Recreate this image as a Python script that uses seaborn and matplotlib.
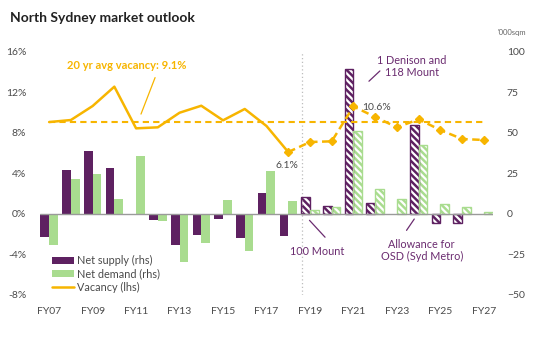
import matplotlib
matplotlib.use("Agg")
import matplotlib.pyplot as plt
from matplotlib.patches import Rectangle, Patch
from matplotlib.lines import Line2D
import seaborn as sns
import pandas as pd
import numpy as np

years = ["FY07", "FY08", "FY09", "FY10", "FY11", "FY12", "FY13", "FY14", "FY15", "FY16", "FY17",
         "FY18", "FY19", "FY20", "FY21", "FY22", "FY23", "FY24", "FY25", "FY26", "FY27"]
net_supply = [-14.4, 26.9, 38.6, 28.0, 0.0, -3.7, -19.1, -12.8, -3.3, -14.8, 12.9,
              -13.6, 10.5, 4.8, 89.1, 6.8, 0.0, 54.6, -5.6, -5.6, 0.0]
net_demand = [-19.1, 21.8, 24.3, 9.4, 35.8, -4.6, -29.9, -18.1, 8.8, -23.1, 26.5,
              7.8, 2.1, 4.0, 51.0, 15.4, 9.3, 42.4, 5.8, 4.1, 0.9]
vacancy = [9.06, 9.26, 10.64, 12.55, 8.44, 8.54, 9.98, 10.67, 9.23, 10.35, 8.67,
           6.1, 7.09, 7.16, 10.6, 9.56, 8.54, 9.33, 8.27, 7.39, 7.29]
avg_vacancy = 9.1
first_forecast = "FY19"
left_ticks = [-8, -4, 0, 4, 8, 12, 16]
right_ticks = [-50, -25, 0, 25, 50, 75, 100]

PURPLE = "#5e2161"
GREEN = "#a9dc8f"
GOLD = "#f7b500"
TXT = "#4a4a4a"
ANN = "#6b2c70"

sns.set_theme(style="white")
plt.rcParams["font.family"] = ["Lato", "DejaVu Sans"]
plt.rcParams["hatch.linewidth"] = 1.6

fig = plt.figure(figsize=(5.34, 3.6), dpi=100)
ax = fig.add_axes([40 / 534, 1 - 295 / 360, 453 / 534, (295 - 51.7) / 360])

df = pd.DataFrame({
    "year": years * 2,
    "value": net_supply + net_demand,
    "series": ["Net supply (rhs)"] * len(years) + ["Net demand (rhs)"] * len(years),
})
sns.barplot(data=df, x="year", y="value", hue="series", order=years,
            hue_order=["Net supply (rhs)", "Net demand (rhs)"],
            palette=[PURPLE, GREEN], saturation=1, width=0.8, legend=False, ax=ax)

fidx = years.index(first_forecast)
for p in list(ax.patches):
    cx = p.get_x() + p.get_width() / 2
    cat = int(round(cx))
    col = p.get_facecolor()
    p.set_linewidth(0)
    if cat >= fidx:
        p.set_hatch("\\\\\\\\\\")
        p.set_edgecolor("white")
        p.set_linewidth(0)
        if abs(p.get_height()) > 0.01:
            ax.add_patch(Rectangle((p.get_x(), p.get_y()), p.get_width(), p.get_height(),
                                   fill=False, edgecolor=col, lw=1.0, zorder=3))

ax.set_xlim(-0.42, len(years) - 1 + 0.42)
ax.set_ylim(-50, 100)
ax.axhline(0, color="#9a9a9a", lw=1.0, zorder=4)
ax.axvline(fidx - 0.38, color="#bdbdbd", lw=0.9, ls=(0, (1, 2)), zorder=1)
ax.set_xticks(range(0, len(years), 2))
ax.set_xticklabels(years[::2])
ax.set_xlabel("")
ax.set_ylabel("")
for s in ax.spines.values():
    s.set_visible(False)

ax2 = ax.twinx()
ax.yaxis.tick_right()
ax.set_yticks(right_ticks)
ax.tick_params(axis="both", length=0, labelsize=7.5, labelcolor=TXT)
ax.tick_params(axis="y", pad=10, left=False, labelleft=False, labelright=True)
ax.tick_params(axis="x", pad=9)

ax2.set_ylim(-8, 16)
ax2.yaxis.tick_left()
ax2.set_yticks(left_ticks)
ax2.set_yticklabels([f"{t}%" for t in left_ticks])
ax2.tick_params(axis="y", length=0, labelsize=7.5, labelcolor=TXT, pad=10,
                right=False, labelright=False, labelleft=True)
for s in ax2.spines.values():
    s.set_visible(False)

x_idx = np.arange(len(years))
hist = pd.DataFrame({"x": x_idx[:fidx], "v": vacancy[:fidx]})
fore = pd.DataFrame({"x": x_idx[fidx - 1:], "v": vacancy[fidx - 1:]})
sns.lineplot(data=hist, x="x", y="v", color=GOLD, lw=1.8, ax=ax2, zorder=5)
ax2.plot(fore["x"], fore["v"], color=GOLD, lw=1.8, ls=(0, (3, 1.8)), marker="D",
         markersize=4, markevery=list(range(0, len(fore))), zorder=5)
ax2.plot([0, len(years) - 1], [avg_vacancy, avg_vacancy], color=GOLD, lw=1.5,
         ls=(0, (3, 2)), zorder=4)
ax2.set_xlim(-0.42, len(years) - 1 + 0.42)
ax2.set_xlabel("")
ax2.set_ylabel("")

# annotations
ax2.annotate("", xy=(4.18, 9.59), xytext=(4.92, 13.7),
             arrowprops=dict(arrowstyle="-", color=GOLD, lw=0.9))
ax2.text(3.59, 14.59, "20 yr avg vacancy: 9.1%", color=GOLD, fontsize=8, fontweight="bold",
         ha="center", va="center")
ax2.text(10.93, 4.79, "6.1%", color=TXT, fontsize=7.5, ha="center", va="center")
ax2.text(14.38, 10.51, "10.6%", color=TXT, fontsize=7.5, ha="left", va="center")
ax2.annotate("", xy=(14.62, 12.9), xytext=(15.31, 14.29),
             arrowprops=dict(arrowstyle="-", color=ANN, lw=0.9))
ax2.text(16.69, 14.54, "1 Denison and\n118 Mount", color=ANN, fontsize=7.8, ha="center",
         va="center", linespacing=1.15)
ax2.annotate("", xy=(11.89, -0.43), xytext=(12.78, -2.5),
             arrowprops=dict(arrowstyle="-", color=ANN, lw=0.9))
ax2.text(12.31, -3.73, "100 Mount", color=ANN, fontsize=7.8, ha="center", va="center")
ax2.annotate("", xy=(16.87, -0.28), xytext=(16.37, -1.85),
             arrowprops=dict(arrowstyle="-", color=ANN, lw=0.9))
ax2.text(17.14, -3.59, "Allowance for\nOSD (Syd Metro)", color=ANN, fontsize=7.8,
         ha="center", va="center", linespacing=1.15)

fig.text(10 / 534, 1 - 18 / 360, "North Sydney market outlook", fontsize=10,
         fontweight="bold", color="#222222", ha="left", va="center")
fig.text(512 / 534, 1 - 32 / 360, "'000sqm", fontsize=5.5, color="#666666",
         ha="center", va="center")

handles = [Patch(facecolor=PURPLE, edgecolor="none"),
           Patch(facecolor=GREEN, edgecolor="none"),
           Line2D([0], [0], color=GOLD, lw=1.8)]
fig.legend(handles, ["Net supply (rhs)", "Net demand (rhs)", "Vacancy (lhs)"],
           loc="upper left", bbox_to_anchor=(52 / 534, 1 - 255 / 360), frameon=False,
           fontsize=7.8, handlelength=2.0, handleheight=0.6, handletextpad=0.3,
           labelspacing=0.22, borderpad=0, borderaxespad=0, labelcolor=TXT)

fig.savefig("out.png", dpi=100)
